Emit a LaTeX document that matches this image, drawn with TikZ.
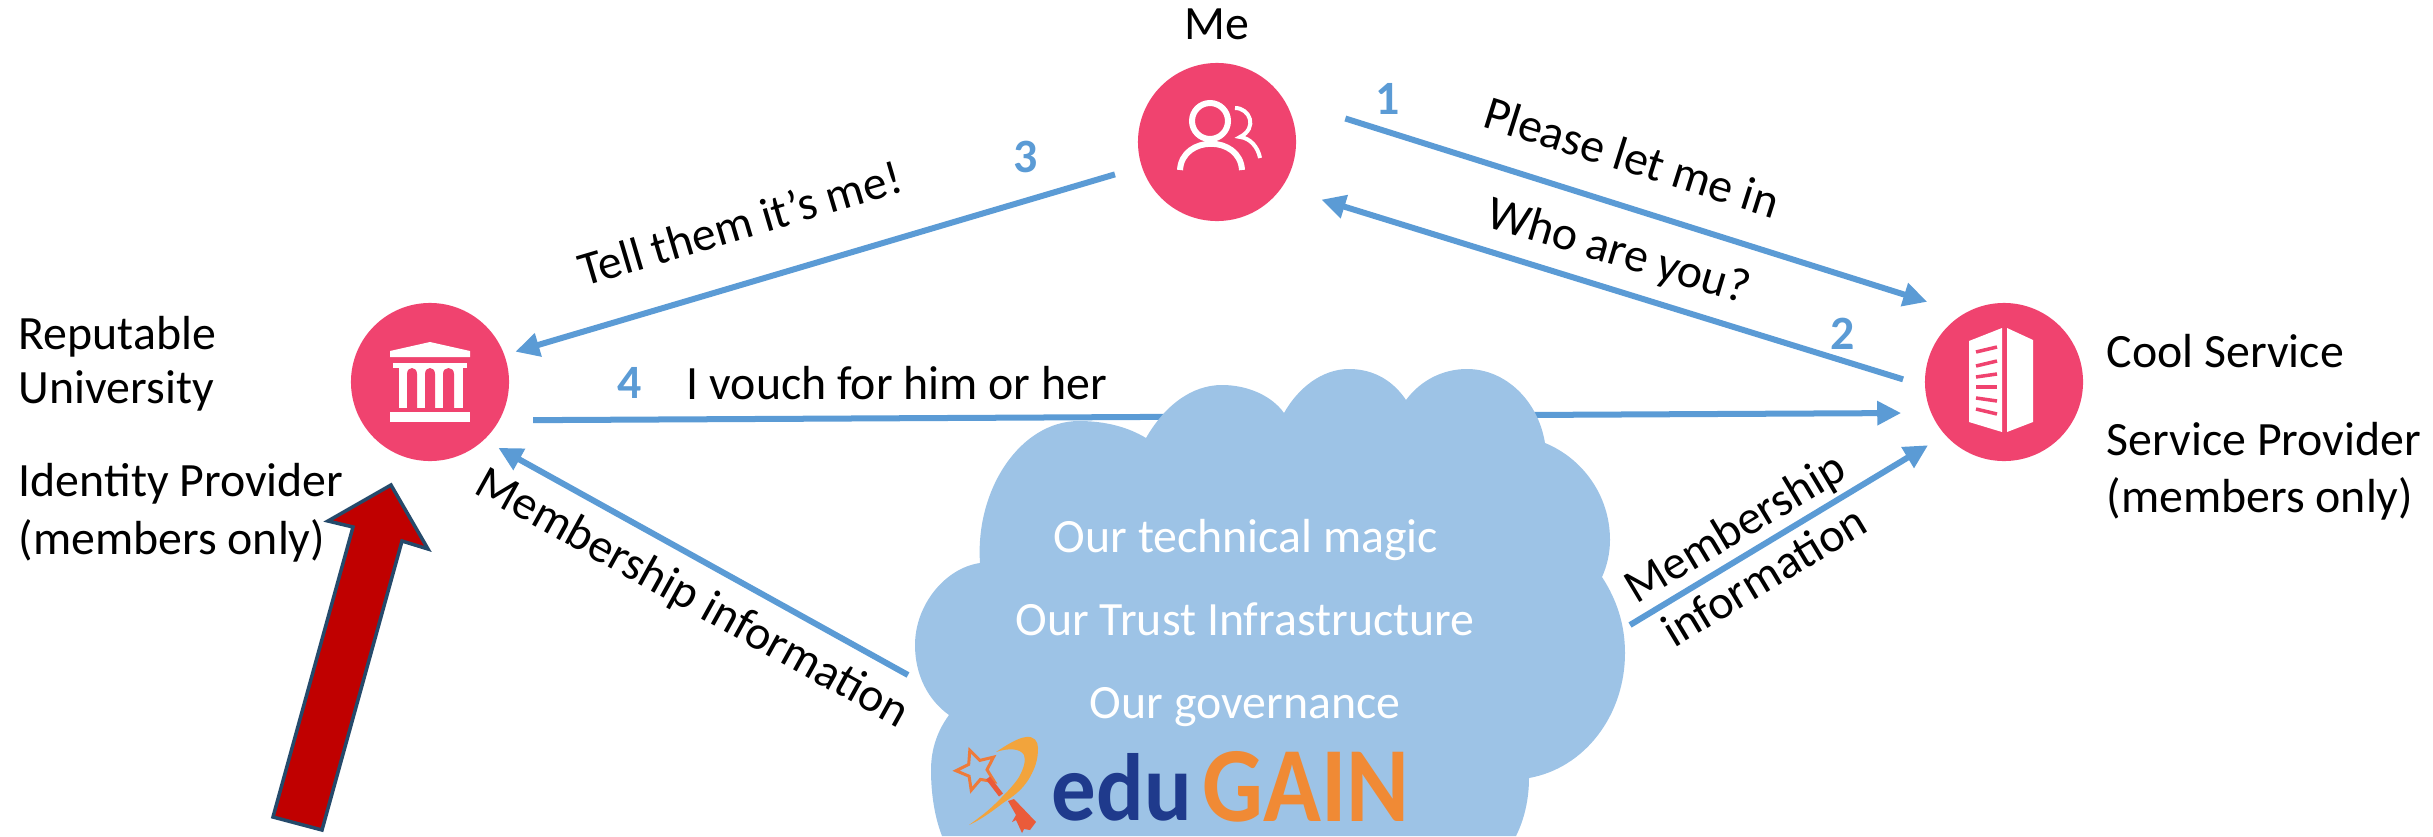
\documentclass[tikz,border=0pt]{standalone}
\usepackage{fontspec}
\usepackage{graphicx}
\setmainfont{Carlito}
\usetikzlibrary{arrows.meta}
\definecolor{pinkc}{HTML}{F0436F}
\definecolor{flowc}{HTML}{5B9BD5}
\definecolor{cloudc}{HTML}{9DC3E6}
\definecolor{redc}{HTML}{C00000}
\definecolor{edgec}{HTML}{254A6B}
\definecolor{edublue}{HTML}{1F3A8C}
\definecolor{gainorange}{HTML}{F08A35}
\definecolor{swoosh}{HTML}{F2A43C}
\definecolor{keyred}{HTML}{EA5B3A}
\definecolor{starc}{HTML}{EE7B3A}
\tikzset{
  hub/.style={circle,fill=pinkc,minimum size=1.58cm,inner sep=0pt,outer sep=0pt},
  flow/.style={draw=flowc,line width=0.06cm,-{Triangle[length=0.24cm,width=0.23cm]}},
  lab/.style={font=\fontsize{13.6}{16.2}\selectfont,inner sep=0pt,text=black},
  cloudlab/.style={font=\fontsize{13.6}{16.2}\selectfont,inner sep=0pt,text=white},
  num/.style={font=\fontsize{13.6}{16.2}\selectfont\bfseries,inner sep=0pt,text=flowc},
  icon/.style={draw=white,line cap=butt,fill=none}
}
\begin{document}
\begin{tikzpicture}[x=0.01cm,y=-0.01cm]
\useasboundingbox (0,0) rectangle (2433,836);

% hubs
\node[hub] (me) at (1217,142) {};
\node[hub] (uni) at (430,382) {};
\node[hub] (svc) at (2004,382) {};

% people icon
\draw[icon,line width=0.06cm] (1210,121) circle (18);
\draw[icon,line width=0.06cm] (1180,170) .. controls (1182,135) and (1240,135) .. (1242,170);
\draw[icon,line width=0.04cm] (1235,108) .. controls (1250,108) and (1258,128) .. (1240,137) .. controls (1250,138) and (1258,147) .. (1260,158);

% university icon
\fill[white] (390,351) -- (430,342) -- (470,351) -- (470,357) -- (390,357) -- cycle;
\fill[white] (393,363) rectangle (467,368);
\fill[white] (399,363) rectangle (463,408);
\fill[white] (390,412) rectangle (470,422);
\fill[pinkc] (407,408) -- (407,374) .. controls (407,366) and (417,366) .. (417,374) -- (417,408) -- cycle;
\fill[pinkc] (425,408) -- (425,374) .. controls (425,366) and (435,366) .. (435,374) -- (435,408) -- cycle;
\fill[pinkc] (443,408) -- (443,374) .. controls (443,366) and (454,366) .. (454,374) -- (454,408) -- cycle;

% building icon
\fill[white] (1969,341) -- (2002,328) -- (2002,432) -- (1969,422) -- cycle;
\fill[white] (2007,328) -- (2033,340) -- (2033,422) -- (2007,432) -- cycle;
\draw[pinkc,line width=0.035cm] (1976,352) -- (1997,347);
\draw[pinkc,line width=0.035cm] (1976,366) -- (1997,361);
\draw[pinkc,line width=0.035cm] (1976,377) -- (1997,374);
\draw[pinkc,line width=0.035cm] (1976,387) -- (1997,387);
\draw[pinkc,line width=0.035cm] (1976,398) -- (1997,401);
\draw[pinkc,line width=0.035cm] (1976,409) -- (1997,414);

% connectors between hubs
\draw[flow,shorten <=0.65cm,shorten >=0.39cm] (me.33.5) -- (svc.120.3);
\draw[flow,shorten <=0.23cm,shorten >=0.415cm] (svc.183.6) -- (me.-35.4);
\draw[flow,shorten <=0.28cm,shorten >=0.115cm] (me.198.5) -- (uni.20.6);
\draw[flow,shorten <=0.34cm,shorten >=0.30cm] (uni.-29.7) -- (svc.203.7);

% cloud
\fill[cloudc] (980,563)
  .. controls (975,490) and (1020,421) .. (1079,421)
  .. controls (1105,421) and (1128,427) .. (1146,438)
  .. controls (1165,405) and (1192,385) .. (1222,385)
  .. controls (1248,385) and (1272,396) .. (1284,413)
  .. controls (1298,388) and (1322,369) .. (1349,369)
  .. controls (1375,369) and (1394,382) .. (1406,400)
  .. controls (1420,381) and (1442,369) .. (1467,369)
  .. controls (1505,369) and (1538,400) .. (1545,443)
  .. controls (1582,458) and (1610,495) .. (1610,540)
  .. controls (1610,553) and (1607,566) .. (1602,577)
  .. controls (1617,600) and (1625,625) .. (1625,653)
  .. controls (1625,715) and (1585,768) .. (1529,778)
  .. controls (1529,800) and (1524,820) .. (1516,836)
  -- (942,836)
  .. controls (935,818) and (931,795) .. (931,770)
  .. controls (931,748) and (938,730) .. (949,715)
  .. controls (928,700) and (915,675) .. (915,645)
  .. controls (915,605) and (945,568) .. (980,563) -- cycle;

\coordinate (cloudW) at (908,675);
\coordinate (cloudE) at (1630,625);
\draw[flow,shorten >=0.165cm] (cloudW) -- (uni.-47.3);
\draw[flow,shorten >=0.20cm] (cloudE) -- (svc.222.8);

% red arrow
\filldraw[fill=redc,draw=edgec,line width=0.035cm,line join=miter]
  (391,485) -- (428,549) -- (402,541) -- (322,830) -- (273,817) -- (353,527) -- (328,521) -- cycle;

% black labels
\node[lab] (tme) at (1217,24) {Me};
\node[lab,anchor=west] (trep) at (18,337) {Reputable};
\node[lab,anchor=west] (tuniv) at (18,391) {University};
\node[lab,anchor=west] (tidp) at (18,484) {Identity Provider};
\node[lab,anchor=west] (tmem1) at (18,541) {(members only)};
\node[lab,anchor=west] (tcool) at (2106,351) {Cool Service};
\node[lab,anchor=west] (tsp) at (2106,439) {Service Provider};
\node[lab,anchor=west] (tmem2) at (2106,499) {(members only)};
\node[lab,rotate=-17.5] (tplease) at (1632,157) {Please let me in};
\node[lab,rotate=-16.5] (twho) at (1618,253) {Who are you?};
\node[lab,rotate=16.5] (ttell) at (740,223) {Tell them it’s me!};
\node[lab] (tvouch) at (897,383) {I vouch for him or her};
\node[lab,rotate=-29] (tmemb1) at (692,599) {Membership information};
\node[lab,rotate=31,align=center] (tmemb2) at (1749,551) {Membership\\information};

% numbers
\node[num] (n1) at (1388,99) {1};
\node[num] (n2) at (1843,334) {2};
\node[num] (n3) at (1026,157) {3};
\node[num] (n4) at (630,383) {4};

% cloud text
\node[cloudlab] (c1) at (1246,540) {Our technical magic};
\node[cloudlab] (c2) at (1245,619) {Our Trust Infrastructure};
\node[cloudlab] (c3) at (1245,707) {Our governance};

% eduGAIN logo
\fill[swoosh] (996,752) .. controls (1008,744) and (1018,738) .. (1026,737)
  .. controls (1034,736) and (1038,741) .. (1038,748)
  .. controls (1038,760) and (1035,768) .. (1030,777)
  .. controls (1022,791) and (1012,797) .. (1003,803)
  .. controls (990,813) and (980,820) .. (969,825)
  .. controls (980,817) and (988,811) .. (996,803)
  .. controls (1006,793) and (1014,785) .. (1019,777)
  .. controls (1024,768) and (1026,760) .. (1024,755)
  .. controls (1020,748) and (1008,748) .. (996,752) -- cycle;
\draw[starc,line width=0.03cm,line join=miter] (969.8,750.3) -- (979.8,760.4) -- (993.5,757.1) -- (987,769.7) -- (994.4,781.7) -- (980.4,779.4) -- (971.2,790.2) -- (969.1,776.2) -- (956,770.7) -- (968.7,764.4) -- cycle;
\draw[keyred,line width=0.05cm] (988,778) -- (1001,795);
\fill[keyred] (1008,801) -- (1014,799) -- (1036,822) -- (1030,830) -- (1024,829) -- (1022,833) -- (1016,820) -- (1012,822) -- (1016,815) -- cycle;
\node[anchor=south west,inner sep=0pt,font=\bfseries,text=edublue] (edu) at (1051,822) {\resizebox{1.40cm}{0.67cm}{edu}};
\node[anchor=south west,inner sep=0pt,font=\bfseries,text=gainorange] (gain) at (1202,823) {\resizebox{2.07cm}{0.70cm}{GAIN}};
\end{tikzpicture}
\end{document}
